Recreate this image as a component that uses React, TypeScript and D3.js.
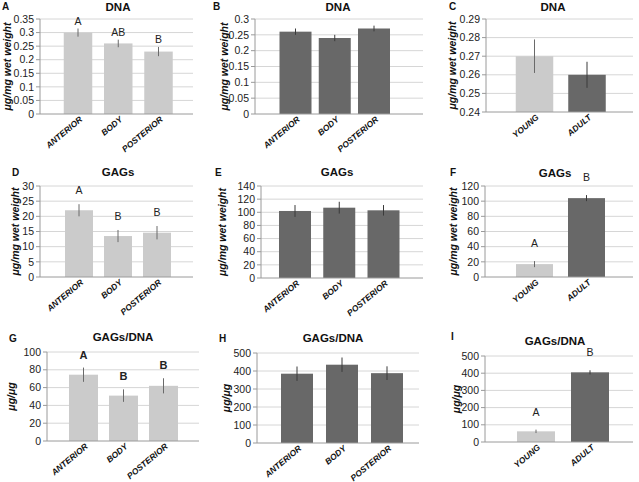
import React from "react";
import * as d3 from "d3";

const regions = ["ANTERIOR", "BODY", "POSTERIOR"];
const ages = ["YOUNG", "ADULT"];

// DNA, µg/mg wet weight
const dnaYoung = [0.3, 0.26, 0.23];
const dnaYoungErr = [0.015, 0.014, 0.017];
const dnaYoungSig = ["A", "AB", "B"];
const dnaAdult = [0.26, 0.24, 0.27];
const dnaAdultErr = [0.01, 0.01, 0.009];
const dnaAge = [0.27, 0.26];
const dnaAgeErr = [0.009, 0.007];

// GAGs, µg/mg wet weight
const gagYoung = [22, 13.5, 14.6];
const gagYoungErr = [2, 2, 2.2];
const gagYoungSig = ["A", "B", "B"];
const gagAdult = [102, 107, 103];
const gagAdultErr = [9, 9, 8];
const gagAge = [17, 104];
const gagAgeErr = [4, 4];
const gagAgeSig = ["A", "B"];

// GAGs/DNA, µg/µg
const ratioYoung = [74.5, 51, 62];
const ratioYoungErr = [8, 7, 8.5];
const ratioYoungSig = ["A", "B", "B"];
const ratioAdult = [385, 435, 388];
const ratioAdultErr = [40, 40, 38];
const ratioAge = [62, 405];
const ratioAgeErr = [10, 12];
const ratioAgeSig = ["A", "B"];

const ticksDnaA = [0, 0.05, 0.1, 0.15, 0.2, 0.25, 0.3, 0.35];
const ticksDnaB = [0, 0.05, 0.1, 0.15, 0.2, 0.25, 0.3];
const ticksDnaC = [0.24, 0.25, 0.26, 0.27, 0.28, 0.29];
const ticksGagD = [0, 5, 10, 15, 20, 25, 30];
const ticksGagE = [0, 20, 40, 60, 80, 100, 120, 140];
const ticksGagF = [0, 20, 40, 60, 80, 100, 120];
const ticksRatioG = [0, 20, 40, 60, 80, 100];
const ticksRatioH = [0, 100, 200, 300, 400, 500];

const LIGHT = "#cbcbcb";
const DARK = "#686868";
const FONT = "'Liberation Sans', Arial, sans-serif";

type Panel = {
  id: string;
  title: string;
  yLabel: string;
  cats: string[];
  values: number[];
  errs: number[];
  sig?: string[];
  sigBold?: boolean;
  sigGap?: number;
  fills: string[];
  ticks: number[];
  x0: number;
  x1: number;
  y0: number;
  y1: number;
  c0: number;
  c1: number;
  barW: number;
  titleX: number;
  titleY: number;
  idX: number;
  idY: number;
  yLabX: number;
};

const WET = "μg/mg wet weight";
const UGUG = "μg/μg";

const panels: Panel[] = [
  { id: "A", title: "DNA", yLabel: WET, cats: regions, values: dnaYoung, errs: dnaYoungErr, sig: dnaYoungSig, sigGap: 4,
    fills: [LIGHT, LIGHT, LIGHT], ticks: ticksDnaA, x0: 40, x1: 193, y0: 114, y1: 19, c0: 78, c1: 158.5, barW: 28.5,
    titleX: 118, titleY: 11, idX: 2, idY: 10, yLabX: 7 },
  { id: "B", title: "DNA", yLabel: WET, cats: regions, values: dnaAdult, errs: dnaAdultErr,
    fills: [DARK, DARK, DARK], ticks: ticksDnaB, x0: 255, x1: 423, y0: 114, y1: 19, c0: 295.5, c1: 374, barW: 32,
    titleX: 338, titleY: 11, idX: 213, idY: 10, yLabX: 224 },
  { id: "C", title: "DNA", yLabel: WET, cats: ages, values: dnaAge, errs: dnaAgeErr,
    fills: [LIGHT, DARK], ticks: ticksDnaC, x0: 486, x1: 633, y0: 112, y1: 19, c0: 534.5, c1: 587, barW: 37.5,
    titleX: 553, titleY: 11, idX: 449, idY: 10, yLabX: 452 },
  { id: "D", title: "GAGs", yLabel: WET, cats: regions, values: gagYoung, errs: gagYoungErr, sig: gagYoungSig, sigGap: 10,
    fills: [LIGHT, LIGHT, LIGHT], ticks: ticksGagD, x0: 40, x1: 193, y0: 277, y1: 186, c0: 79, c1: 157, barW: 28,
    titleX: 118, titleY: 176, idX: 12, idY: 176, yLabX: 15 },
  { id: "E", title: "GAGs", yLabel: WET, cats: regions, values: gagAdult, errs: gagAdultErr,
    fills: [DARK, DARK, DARK], ticks: ticksGagE, x0: 261, x1: 423, y0: 278, y1: 186, c0: 295, c1: 383.5, barW: 32,
    titleX: 337, titleY: 176, idX: 215, idY: 176, yLabX: 222 },
  { id: "F", title: "GAGs", yLabel: WET, cats: ages, values: gagAge, errs: gagAgeErr, sig: gagAgeSig, sigGap: 14,
    fills: [LIGHT, DARK], ticks: ticksGagF, x0: 485, x1: 633, y0: 277, y1: 186, c0: 534.5, c1: 586.5, barW: 37,
    titleX: 555, titleY: 177, idX: 450, idY: 176, yLabX: 453 },
  { id: "G", title: "GAGs/DNA", yLabel: UGUG, cats: regions, values: ratioYoung, errs: ratioYoungErr, sig: ratioYoungSig, sigBold: true, sigGap: 9,
    fills: [LIGHT, LIGHT, LIGHT], ticks: ticksRatioG, x0: 47, x1: 199, y0: 441, y1: 352, c0: 83.5, c1: 163.5, barW: 29,
    titleX: 123, titleY: 341, idX: 9, idY: 342, yLabX: 11 },
  { id: "H", title: "GAGs/DNA", yLabel: UGUG, cats: regions, values: ratioAdult, errs: ratioAdultErr,
    fills: [DARK, DARK, DARK], ticks: ticksRatioH, x0: 257, x1: 419, y0: 443, y1: 353, c0: 297, c1: 387, barW: 32,
    titleX: 333, titleY: 342, idX: 219, idY: 342, yLabX: 226 },
  { id: "I", title: "GAGs/DNA", yLabel: UGUG, cats: ages, values: ratioAge, errs: ratioAgeErr, sig: ratioAgeSig, sigGap: 14,
    fills: [LIGHT, DARK], ticks: ticksRatioH, x0: 485, x1: 633, y0: 442, y1: 356, c0: 536, c1: 590, barW: 38,
    titleX: 555, titleY: 345, idX: 451, idY: 340, yLabX: 456 },
];

function BarPanel({ p }: { p: Panel }) {
  const lo = p.ticks[0];
  const hi = p.ticks[p.ticks.length - 1];
  const y = d3.scaleLinear().domain([lo, hi]).range([p.y0, p.y1]);
  const x = d3.scalePoint<string>().domain(p.cats).range([p.c0, p.c1]);
  const midY = (p.y0 + p.y1) / 2;

  return (
    <g fontFamily={FONT}>
      {/* gridlines + y ticks */}
      {p.ticks.map((t) => (
        <g key={t}>
          {t !== lo && <line x1={p.x0} x2={p.x1} y1={y(t)} y2={y(t)} stroke="#d6d6d6" strokeWidth={1} />}
          <line x1={p.x0 - 4} x2={p.x0} y1={y(t)} y2={y(t)} stroke="#9a9a9a" strokeWidth={1} />
          <text x={p.x0 - 6} y={y(t)} dy="0.35em" textAnchor="end" fontSize={10.5} fill="#222">
            {String(t)}
          </text>
        </g>
      ))}

      {p.cats.map((c, i) => (
        <rect
          key={c}
          x={x(c)! - p.barW / 2}
          y={y(p.values[i])}
          width={p.barW}
          height={y(lo) - y(p.values[i])}
          fill={p.fills[i]}
        />
      ))}

      {/* error bars, no caps */}
      {p.cats.map((c, i) => (
        <line
          key={c}
          x1={x(c)!}
          x2={x(c)!}
          y1={y(p.values[i] - p.errs[i])}
          y2={y(p.values[i] + p.errs[i])}
          stroke={p.fills[i] === DARK ? "#3a3a3a" : "#6a6a6a"}
          strokeWidth={1}
        />
      ))}

      <line x1={p.x0} x2={p.x0} y1={p.y1} y2={p.y0} stroke="#9a9a9a" />
      <line x1={p.x0} x2={p.x1} y1={p.y0} y2={p.y0} stroke="#9a9a9a" />

      {p.cats.map((c) => (
        <text
          key={c}
          transform={`translate(${x(c)! + 3},${p.y0 + 4}) rotate(-40)`}
          textAnchor="end"
          dy="0.35em"
          fontSize={8.5}
          fontWeight="bold"
          fontStyle="italic"
          fill="#111"
        >
          {c}
        </text>
      ))}

      {p.sig &&
        p.cats.map((c, i) => (
          <text
            key={c}
            x={x(c)!}
            y={y(p.values[i] + p.errs[i]) - (p.sigGap ?? 5)}
            textAnchor="middle"
            fontSize={p.sigBold ? 11 : 10.5}
            fontWeight={p.sigBold ? "bold" : "normal"}
            fill="#222"
          >
            {p.sig![i]}
          </text>
        ))}

      <text
        transform={`translate(${p.yLabX},${midY}) rotate(-90)`}
        textAnchor="middle"
        dy="0.35em"
        fontSize={10.5}
        fontWeight="bold"
        fontStyle="italic"
        fill="#111"
      >
        {p.yLabel}
      </text>

      <text x={p.titleX} y={p.titleY} textAnchor="middle" fontSize={11.5} fontWeight="bold" fill="#111">
        {p.title}
      </text>
      <text x={p.idX} y={p.idY} fontSize={10} fontWeight="bold" fill="#111">
        {p.id}
      </text>
    </g>
  );
}

export default function App() {
  return (
    <svg
      width={639}
      height={482}
      style={{ position: "absolute", left: 0, top: 0, background: "#fff" }}
    >
      <rect width={639} height={482} fill="#fff" />
      {panels.map((p) => (
        <BarPanel key={p.id} p={p} />
      ))}
    </svg>
  );
}
